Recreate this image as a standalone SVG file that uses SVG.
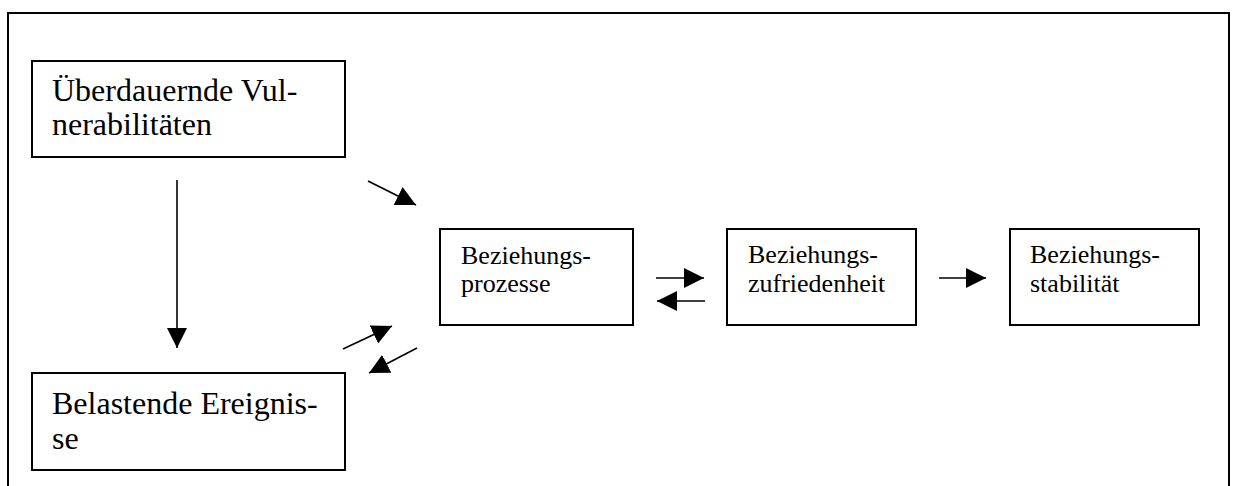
<svg xmlns="http://www.w3.org/2000/svg" width="1233" height="486" viewBox="0 0 1233 486">
  <style>
    .box { fill: #ffffff; stroke: #000000; stroke-width: 2; }
    .big { font-family: "Liberation Serif", "Times New Roman", serif; font-size: 32px; fill: #000000; }
    .small { font-family: "Liberation Serif", "Times New Roman", serif; font-size: 26px; fill: #000000; }
    .conn { stroke: #000000; stroke-width: 1.6; fill: none; marker-end: url(#arrow); }
    .frame { stroke: #000000; stroke-width: 2; fill: none; }
  </style>
  <defs>
    <marker id="arrow" markerUnits="userSpaceOnUse" markerWidth="20" markerHeight="20" refX="20" refY="10" orient="auto" viewBox="0 0 20 20">
      <path d="M0,0 L20,10 L0,20 Z" fill="#000000"/>
    </marker>
  </defs>
  <rect x="0" y="0" width="1233" height="486" fill="#ffffff"/>
  <path class="frame" d="M8,486 L8,13 L1229,13 L1229,486"/>

  <g id="node-vulnerabilitaeten">
    <rect class="box" x="32" y="61" width="313" height="96"/>
    <text class="big" x="52" y="101">Überdauernde Vul-</text>
    <text class="big" x="52" y="135">nerabilitäten</text>
  </g>
  <g id="node-ereignisse">
    <rect class="box" x="32" y="373" width="313" height="97"/>
    <text class="big" x="52" y="414">Belastende Ereignis-</text>
    <text class="big" x="52" y="449">se</text>
  </g>
  <g id="node-prozesse">
    <rect class="box" x="440" y="229" width="193" height="96"/>
    <text class="small" x="461" y="264">Beziehungs-</text>
    <text class="small" x="461" y="292">prozesse</text>
  </g>
  <g id="node-zufriedenheit">
    <rect class="box" x="727" y="229" width="189" height="96"/>
    <text class="small" x="748" y="263">Beziehungs-</text>
    <text class="small" x="748" y="292">zufriedenheit</text>
  </g>
  <g id="node-stabilitaet">
    <rect class="box" x="1010" y="229" width="189" height="96"/>
    <text class="small" x="1030" y="263">Beziehungs-</text>
    <text class="small" x="1030" y="292">stabilität</text>
  </g>

  <g id="connectors">
    <line class="conn" x1="177" y1="180" x2="177" y2="348"/>
    <line class="conn" x1="368" y1="181" x2="416" y2="205"/>
    <line class="conn" x1="343" y1="349" x2="392" y2="326"/>
    <line class="conn" x1="417" y1="348" x2="369" y2="373"/>
    <line class="conn" x1="656" y1="278" x2="704" y2="278"/>
    <line class="conn" x1="705" y1="301" x2="657" y2="301"/>
    <line class="conn" x1="939" y1="278" x2="986" y2="278"/>
  </g>
</svg>
